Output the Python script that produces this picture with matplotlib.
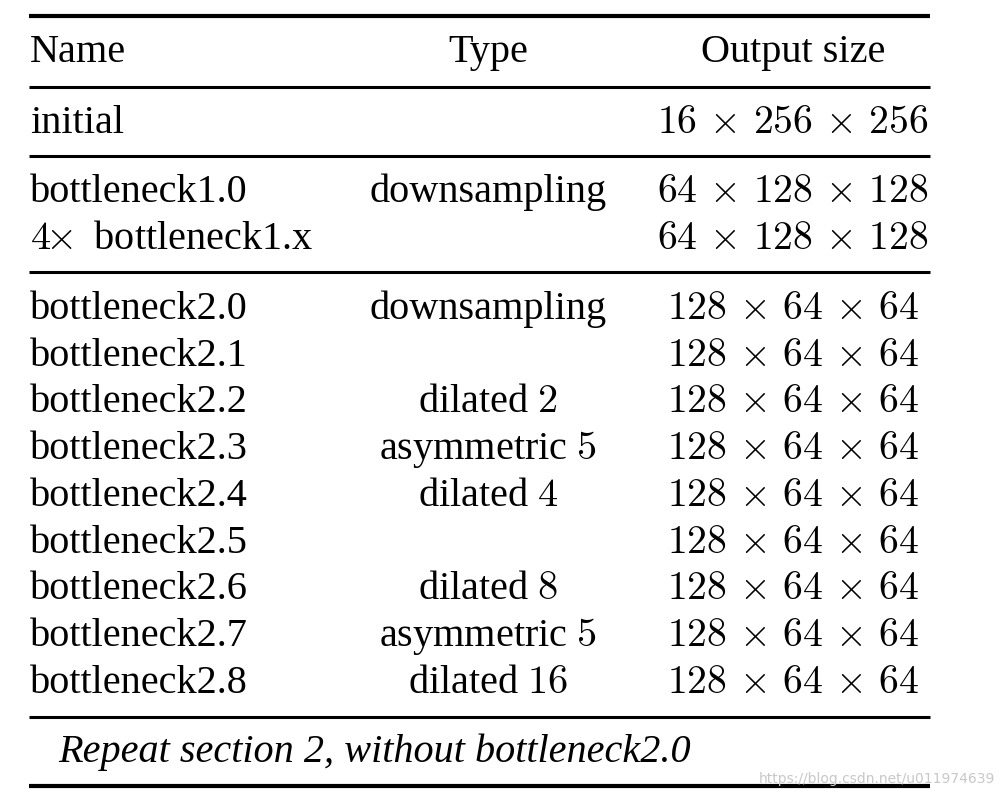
import matplotlib
matplotlib.use("Agg")
import matplotlib.pyplot as plt

plt.rcParams['mathtext.fontset'] = 'cm'
plt.rcParams['font.family'] = ['Liberation Serif', 'DejaVu Serif']

headers = ["Name", "Type", "Output size"]
names = ["initial",
         "bottleneck1.0", r"$4\!\!\times$ bottleneck1.x",
         "bottleneck2.0", "bottleneck2.1", "bottleneck2.2", "bottleneck2.3",
         "bottleneck2.4", "bottleneck2.5", "bottleneck2.6", "bottleneck2.7",
         "bottleneck2.8"]
types = ["", "downsampling", "", "downsampling", "", r"dilated $2$",
         r"asymmetric $5$", r"dilated $4$", "", r"dilated $8$",
         r"asymmetric $5$", r"dilated $16$"]
sizes = [r"$16\,\times\,256\,\times\,256$",
         r"$64\,\times\,128\,\times\,128$", r"$64\,\times\,128\,\times\,128$"] + \
        [r"$128\,\times\,64\,\times\,64$"] * 9
groups = [0, 1, 1, 2, 2, 2, 2, 2, 2, 2, 2, 2]
footer = "Repeat section 2, without bottleneck2.0"
watermark = "https://blog.csdn.net/u011974639"

W, H = 1004, 797
fig = plt.figure(figsize=(W / 100, H / 100), dpi=100)
ax = fig.add_axes([0, 0, 1, 1])
ax.set_xlim(0, W)
ax.set_ylim(H, 0)
ax.axis('off')

fs = 29
x_name, x_type, x_size = 30, 488, 793
x0, x1 = 29, 930

def hline(y, lw):
    ax.plot([x0, x1], [y, y], color='black', lw=lw, solid_capstyle='butt')

hline(16, 3.0)
ax.text(x_name, 62, headers[0], fontsize=fs, ha='left', va='baseline')
ax.text(x_type, 62, headers[1], fontsize=fs, ha='center', va='baseline')
ax.text(x_size, 62, headers[2], fontsize=fs, ha='center', va='baseline')
hline(87, 2.2)

row_y = [133, 202, 249, 319, 366, 412, 459, 506, 553, 599, 646, 693]
sep_y = {1: 156, 2: 272}
prev = groups[0]
for i, (n, t, s) in enumerate(zip(names, types, sizes)):
    if groups[i] != prev:
        hline(sep_y[groups[i]], 2.2)
        prev = groups[i]
    y = row_y[i]
    ax.text(x_name, y, n, fontsize=fs, ha='left', va='baseline')
    if t:
        ax.text(x_type, y, t, fontsize=fs, ha='center', va='baseline')
    ax.text(x_size, y, s, fontsize=fs * 0.985, ha='center', va='baseline')

hline(717, 2.2)
ax.text(58, 762, footer, fontsize=fs, ha='left', va='baseline', style='italic')
hline(786, 3.0)
ax.text(995, 779, watermark, fontsize=10, ha='right', va='center',
        color='#c8c8c8', family='DejaVu Sans')

fig.savefig("out.png", dpi=100)
